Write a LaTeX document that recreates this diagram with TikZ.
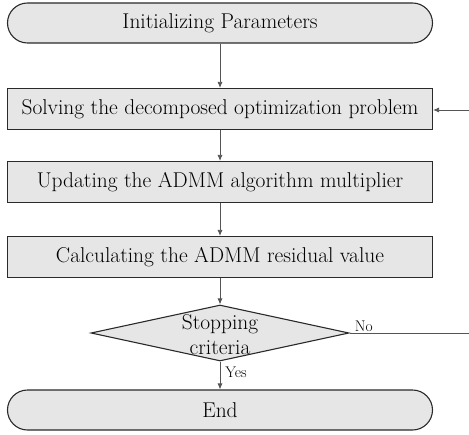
\documentclass[tikz,border=0pt]{standalone}
\usetikzlibrary{shapes.geometric,arrows.meta}
\definecolor{boxfill}{HTML}{E6E6E6}
\definecolor{boxline}{HTML}{2A2A2A}
\definecolor{flowline}{HTML}{555555}
\begin{document}
\begin{tikzpicture}[x=1bp,y=-1bp,
  every node/.style={font=\fontsize{21.5}{25}\selectfont},
  terminal/.style={draw=boxline,fill=boxfill,line width=1.1bp,rounded corners=20bp,
    minimum width=425bp,minimum height=40bp,inner sep=0pt},
  procbox/.style={draw=boxline,fill=boxfill,line width=1.1bp,
    minimum width=425bp,minimum height=41bp,inner sep=0pt},
  decision/.style={diamond,draw=boxline,fill=boxfill,line width=1.1bp,
    minimum width=258bp,minimum height=56bp,inner sep=0pt},
  flow/.style={draw=flowline,line width=0.8bp,-{Latex[length=6bp,width=5bp]}},
  plain/.style={draw=flowline,line width=0.8bp},
  tag/.style={font=\fontsize{15.5}{17}\selectfont,inner sep=1pt}]
\useasboundingbox (0,0) rectangle (469,435);
\node[terminal] (init) at (220,23) {Initializing Parameters};
\node[procbox] (solve) at (220,109) {Solving the decomposed optimization problem};
\node[procbox] (update) at (220,182) {Updating the ADMM algorithm multiplier};
\node[procbox] (calc) at (220,257) {Calculating the ADMM residual value};
\node[decision,label={[align=center,yshift=-2bp,font=\fontsize{21.5}{25}\selectfont]center:Stopping\\criteria}] (stop) at (220,333) {};
\node[terminal] (end) at (220,410) {End};
\coordinate (noend) at (469,333);
\coordinate (back) at (469,110);
\draw[flow] (init) -- (solve);
\draw[flow] (solve) -- (update);
\draw[flow] (update) -- (calc);
\draw[flow] (calc) -- (stop);
\draw[flow] (stop) -- node[tag,right,pos=0.4,xshift=4bp] {Yes} (end);
\draw[plain] (stop.east) -- node[tag,above,pos=0.12] {No} (noend);
\draw[flow] (back) -- (solve.east |- back);
\end{tikzpicture}
\end{document}
